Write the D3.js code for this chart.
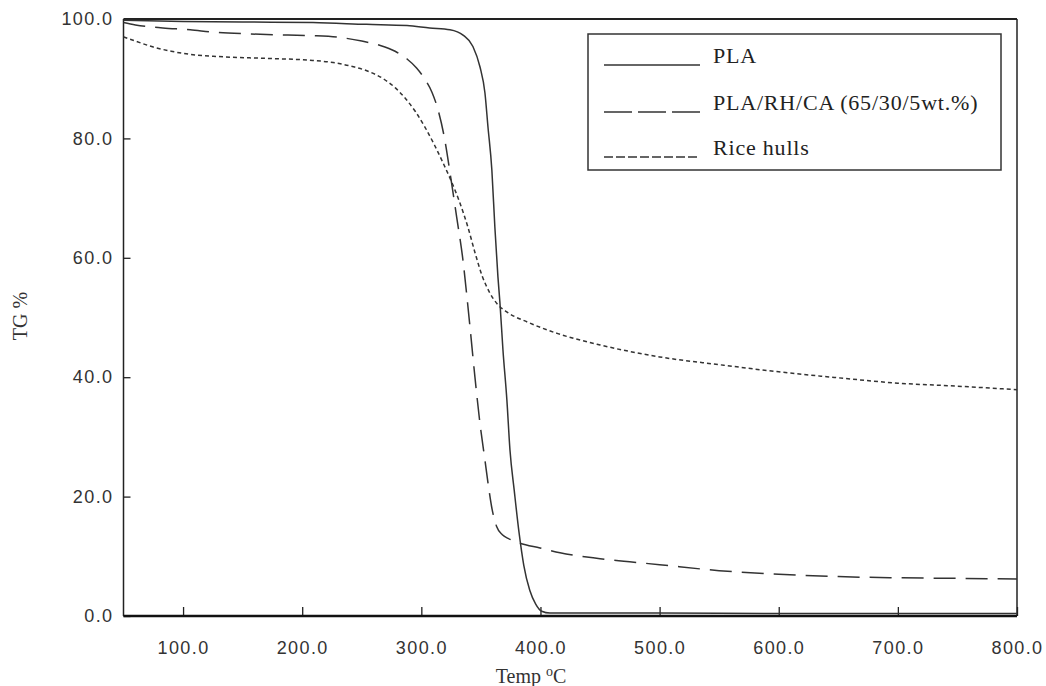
<!DOCTYPE html>
<html>
<head>
<meta charset="utf-8">
<script src="https://cdn.jsdelivr.net/npm/d3@7"></script>
<style>
body { margin: 0; background: #fff; }
.tick text { font-family: "Liberation Sans", sans-serif; font-size: 18px; letter-spacing: 1.4px; fill: #333; }
</style>
</head>
<body>
<div id="chart"></div>
<script>
const width = 1046;
const height = 686;

// series: temperature (°C) and weight (%)
const plaTemp = [50, 100, 150, 209, 254, 288, 307, 324, 335, 343.3, 349.2, 353.4, 355.9, 359.2, 361.7, 364.3, 366, 368.5, 371.8, 374.4, 378, 382, 386, 391, 396, 401, 408, 500, 600, 700, 800];
const plaWt   = [99.8, 99.6, 99.5, 99.4, 99.1, 98.9, 98.5, 98.2, 97.3, 95.4, 92.0, 87.6, 82.0, 74.7, 65.2, 56.8, 52.4, 44.6, 36.2, 27.8, 21.0, 14.0, 8.5, 4.3, 2.0, 0.8, 0.5, 0.5, 0.4, 0.4, 0.4];

const blendTemp = [50, 60, 83, 106, 125, 156, 188, 209, 232, 250, 265, 278, 288, 296, 303, 309, 314, 319, 325.4, 329.6, 335, 338, 340.8, 345, 349.2, 353.4, 356.8, 359, 363.2, 368, 372.8, 382.8, 399.6, 416.4, 450, 500, 550, 600, 650, 700, 750, 800];
const blendWt   = [99.4, 99.0, 98.5, 98.2, 97.8, 97.5, 97.3, 97.2, 96.9, 96.3, 95.6, 94.6, 93.3, 91.8, 89.9, 87.7, 84.8, 80.5, 72.5, 66.9, 59.5, 54.0, 48.5, 40.0, 32.3, 26.1, 21.1, 18.3, 15.0, 13.6, 13.0, 12.2, 11.4, 10.6, 9.6, 8.6, 7.6, 7.0, 6.6, 6.4, 6.3, 6.2];

const riceTemp = [50, 60, 75, 90, 105, 130, 170, 206, 226, 243, 256, 268, 278, 287, 295, 303, 311, 318, 325, 332, 339, 345, 351, 357, 364, 372, 389.5, 414.6, 450, 500, 550, 600, 650, 700, 750, 800];
const riceWt   = [97.0, 96.3, 95.3, 94.6, 94.1, 93.7, 93.4, 93.1, 92.7, 92.0, 91.2, 90.0, 88.5, 86.6, 84.5, 81.9, 78.9, 76.0, 72.9, 69.4, 65.2, 60.9, 57.0, 54.3, 52.2, 50.9, 49.2, 47.3, 45.4, 43.4, 42.1, 40.9, 39.9, 39.0, 38.5, 37.9];

const xTicks = [100, 200, 300, 400, 500, 600, 700, 800];
const yTicks = [0, 20, 40, 60, 80, 100];
const seriesNames = ["PLA", "PLA/RH/CA (65/30/5wt.%)", "Rice hulls"];

const plotLeft = 123.5, plotTop = 19, plotRight = 1017, plotBottom = 616;

let svg = d3.select("#chart").append("svg").attr("width", width).attr("height", height);

const x = d3.scaleLinear().domain([50, 800]).range([plotLeft, plotRight]);
const y = d3.scaleLinear().domain([0, 100]).range([plotBottom, plotTop]);

// axes, ticks pointing inward
svg.append("g").attr("transform", `translate(0,${plotBottom})`)
	.call(d3.axisBottom(x).tickValues(xTicks).tickSize(-9).tickPadding(25).tickFormat(d3.format(".1f")))
	.call(g => g.select(".domain").remove())
	.call(g => g.selectAll("line").attr("stroke", "#222").attr("stroke-width", 1.3));

svg.append("g").attr("transform", `translate(${plotLeft},0)`)
	.call(d3.axisLeft(y).tickValues(yTicks).tickSize(-7).tickPadding(10).tickFormat(d3.format(".1f")))
	.call(g => g.select(".domain").remove())
	.call(g => g.selectAll("line").attr("stroke", "#222").attr("stroke-width", 1.3));

// frame
svg.append("line").attr("x1", plotLeft).attr("x2", plotRight).attr("y1", plotTop).attr("y2", plotTop).attr("stroke", "#222").attr("stroke-width", 2);
svg.append("line").attr("x1", plotLeft).attr("x2", plotLeft).attr("y1", plotTop).attr("y2", plotBottom).attr("stroke", "#222").attr("stroke-width", 1.5);
svg.append("line").attr("x1", plotRight).attr("x2", plotRight).attr("y1", plotTop).attr("y2", plotBottom).attr("stroke", "#222").attr("stroke-width", 1.5);
svg.append("line").attr("x1", plotLeft).attr("x2", plotRight).attr("y1", plotBottom).attr("y2", plotBottom).attr("stroke", "#111").attr("stroke-width", 2.5);

// curves
const line = d3.line().x(d => x(d[0])).y(d => y(d[1])).curve(d3.curveMonotoneX);
const series = [
	{ pts: d3.zip(plaTemp, plaWt), dash: null },
	{ pts: d3.zip(blendTemp, blendWt), dash: "22,10" },
	{ pts: d3.zip(riceTemp, riceWt), dash: "4,3" }
];
series.forEach(s => {
	svg.append("path").attr("d", line(s.pts)).attr("fill", "none")
		.attr("stroke", "#333").attr("stroke-width", 1.5)
		.attr("stroke-dasharray", s.dash);
});

// legend
const legendDash = [null, "28,6", "9,3"];
const lg = svg.append("g");
lg.append("rect").attr("x", 588).attr("y", 34).attr("width", 413).attr("height", 136)
	.attr("fill", "#fff").attr("stroke", "#333").attr("stroke-width", 1.5);
const rowY = [65, 112, 157];
seriesNames.forEach((name, i) => {
	lg.append("line").attr("x1", 604).attr("x2", 700).attr("y1", rowY[i]).attr("y2", rowY[i])
		.attr("stroke", "#333").attr("stroke-width", 1.3).attr("stroke-dasharray", legendDash[i]);
	lg.append("text").attr("x", 713).attr("y", rowY[i] - 2).text(name)
		.style("font-family", "'Liberation Serif', serif").style("font-size", "22px")
		.style("letter-spacing", "0.8px").attr("fill", "#222");
});

// axis titles
svg.append("text").attr("transform", "translate(27,316) rotate(-90)").attr("text-anchor", "middle")
	.style("font-family", "'Liberation Serif', serif").style("font-size", "20px").attr("fill", "#333")
	.text("TG %");

let xt = svg.append("text").attr("x", 531).attr("y", 683).attr("text-anchor", "middle")
	.style("font-family", "'Liberation Serif', serif").style("font-size", "20px").attr("fill", "#333");
xt.append("tspan").text("Temp ");
xt.append("tspan").attr("dy", -7).style("font-size", "14px").text("o");
xt.append("tspan").attr("dy", 7).text("C");
</script>
</body>
</html>
